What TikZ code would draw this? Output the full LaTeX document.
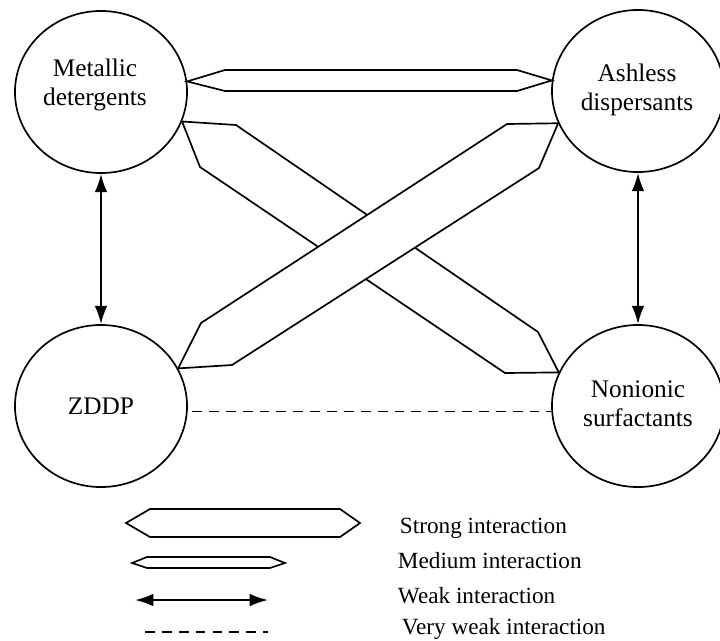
\documentclass[tikz,border=0pt]{standalone}
\usepackage{fontspec}
\setmainfont{Liberation Serif}
\usetikzlibrary{shapes.geometric, arrows.meta}

\tikzset{
    additive/.style = {draw, ellipse, line width = 1.2pt, minimum width = 4.3cm, minimum height = 4.05cm, inner sep = 0pt},
    additivelabel/.style = {font = \fontsize{18}{20.5}\selectfont, align = center},
    band/.style = {draw, line width = 1.2pt, line join = miter, fill = white},
    weakarrow/.style = {line width = 1.5pt, {Latex[length = 13pt, width = 9pt]}-{Latex[length = 13pt, width = 9pt]}},
    veryweak/.style = {line width = 1.2pt, dash pattern = on 7pt off 5pt},
    legendtext/.style = {font = \fontsize{16.5}{19}\selectfont, anchor = base west}
}

\begin{document}
\begin{tikzpicture}[x = 0.025cm, y = -0.025cm]
    \useasboundingbox (0, 0) rectangle (720, 640);

    % draw additives
    \node[additive] (md) at (101, 92) {};
    \node[additive] (ad) at (638, 91) {};
    \node[additive] (zd) at (101, 406) {};
    \node[additive] (ns) at (638, 406) {};

    \node[additivelabel] (mdtext) at (95, 85) {Metallic\\detergents};
    \node[additivelabel] (adtext) at (637, 90) {Ashless\\dispersants};
    \node[additivelabel] (zdtext) at (101, 406) {ZDDP};
    \node[additivelabel] (nstext) at (638, 404) {Nonionic\\surfactants};


    % draw medium interaction
    \draw[band] (md.7) -- (225, 70) -- (517, 70) -- (ad.173) -- (517, 91) -- (225, 91) -- cycle;

    % draw strong interactions (ZDDP band lies on top)
    \draw[band] (md.-20) -- (236, 125) -- (538, 332) -- (ns.157) -- (505, 373) -- (200, 167) -- cycle;
    \draw[band] (zd.26) -- (201, 323) -- (507, 124) -- (ad.202) -- (539, 168) -- (232, 365) -- cycle;


    % draw weak and very weak interactions
    \draw[weakarrow] (md.south) -- (zd.north);
    \draw[weakarrow] (ad.south) -- (ns.north);

    \draw[veryweak, shorten < = 3pt] ([yshift = -4pt]zd.east) -- ([yshift = -4pt]ns.west);


    % draw legend
    \draw[band] (126, 523) -- (150, 509) -- (340, 509) -- (360, 523) -- (340, 537) -- (150, 537) -- cycle;
    \draw[band] (132, 563) -- (147, 557) -- (270, 557) -- (285, 563) -- (270, 568) -- (147, 568) -- cycle;

    \coordinate (weakL) at (135, 600);
    \coordinate (weakR) at (268, 600);
    \draw[weakarrow] (weakL) -- (weakR);

    \coordinate (veryweakL) at (145, 632);
    \coordinate (veryweakR) at (268, 632);
    \draw[veryweak] (veryweakL) -- (veryweakR);

    \node[legendtext] (strong) at (395, 533) {Strong interaction};
    \node[legendtext] (medium) at (393, 568) {Medium interaction};
    \node[legendtext] (weak) at (393, 603) {Weak interaction};
    \node[legendtext] (veryweak) at (397, 634) {Very weak interaction};

\end{tikzpicture}
\end{document}
